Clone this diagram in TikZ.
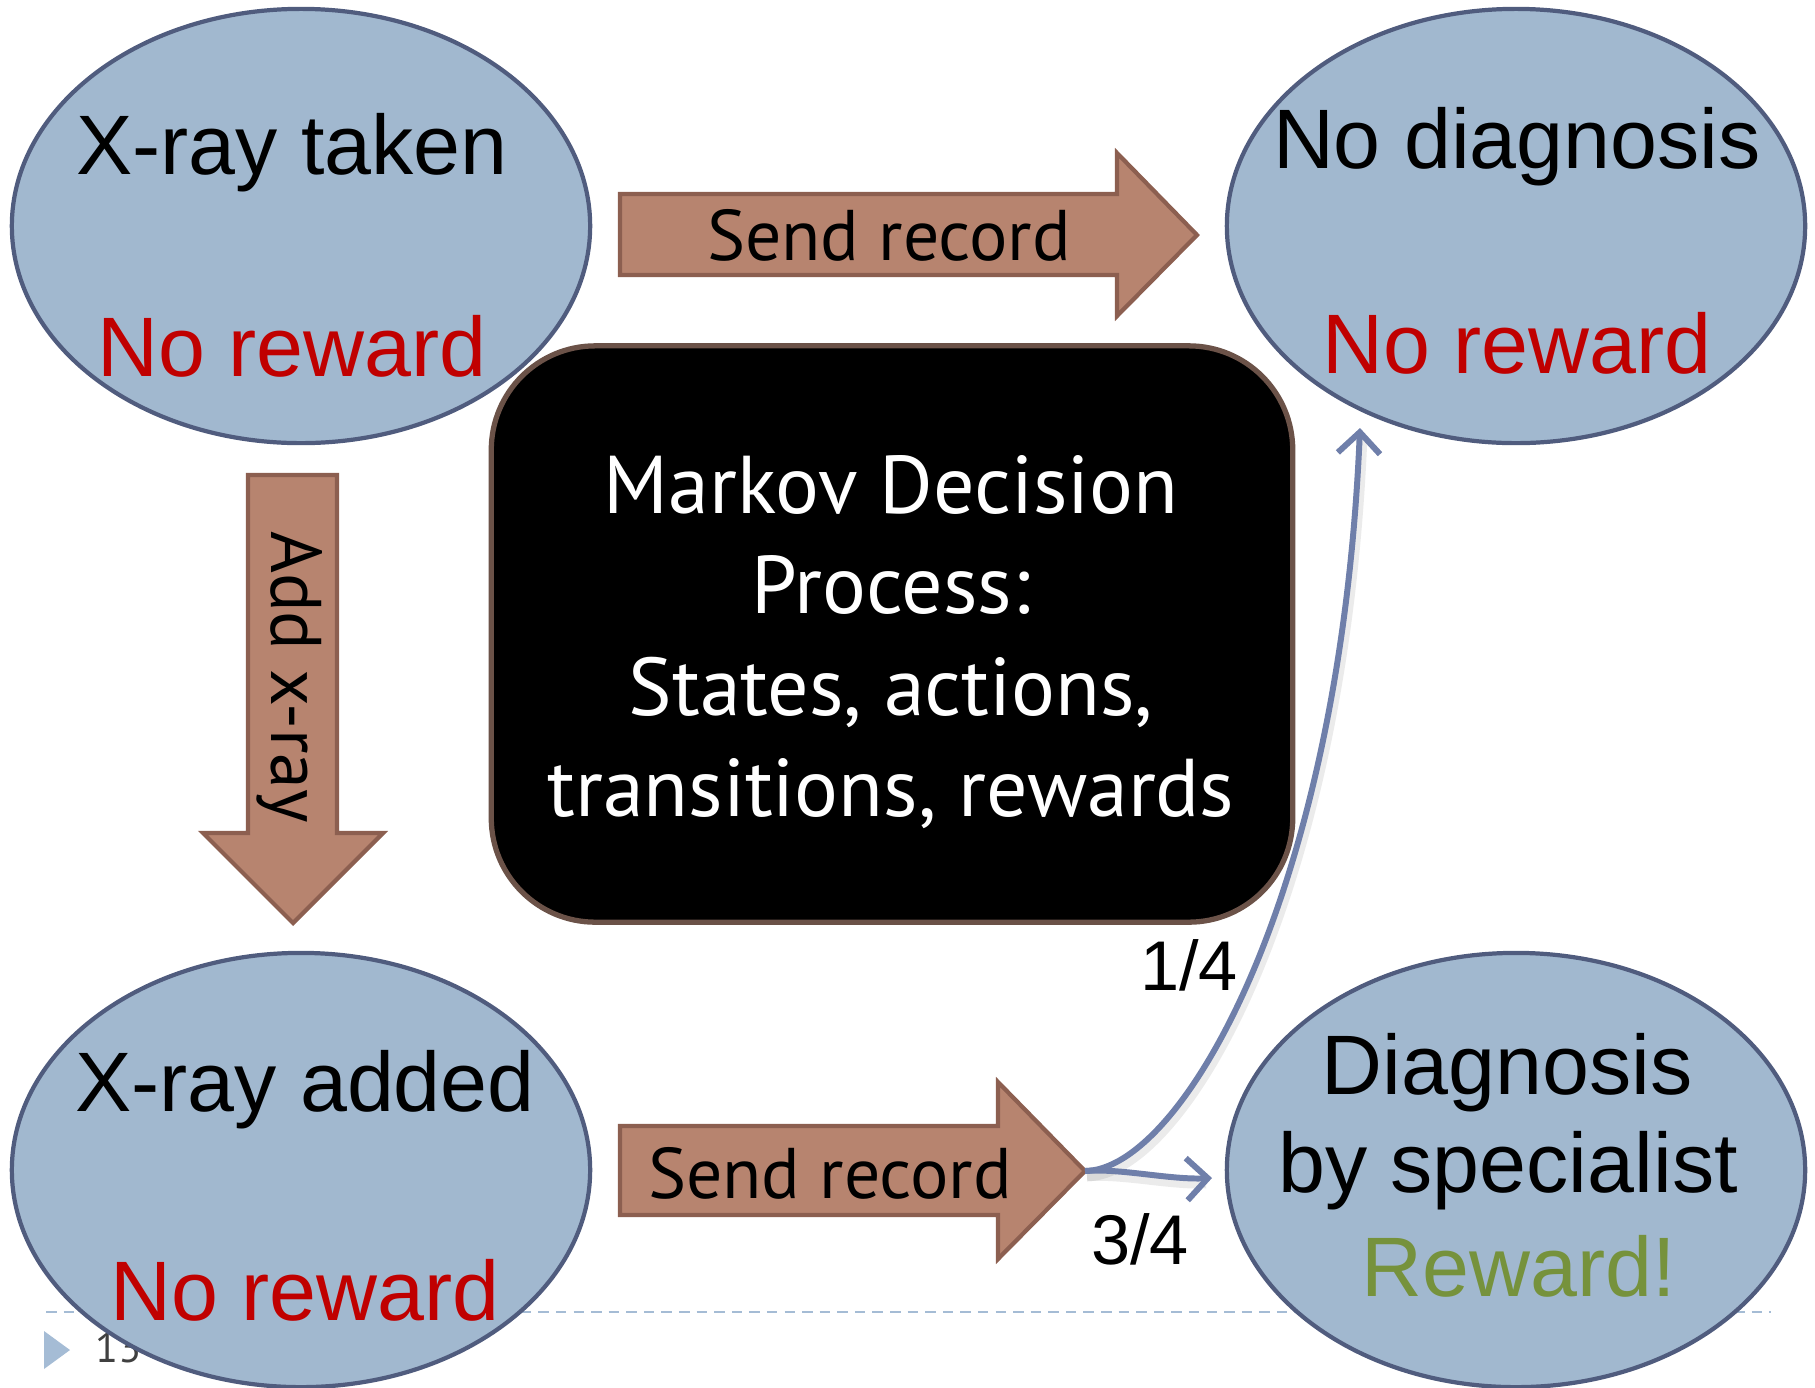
\documentclass[tikz,border=0pt]{standalone}
\usepackage{fontspec}
\setmainfont{Liberation Sans}
\newfontfamily\gill{PT Sans}
\usetikzlibrary{shapes.geometric,arrows.meta}
\definecolor{ellfill}{HTML}{A1B8CF}
\definecolor{ellline}{HTML}{505C7E}
\definecolor{redtxt}{HTML}{C00000}
\definecolor{olivetxt}{HTML}{76923C}
\definecolor{arrowfill}{HTML}{B7846F}
\definecolor{arrowline}{HTML}{8C5F50}
\definecolor{boxline}{HTML}{6B5248}
\definecolor{transcol}{HTML}{6F7FAA}
\definecolor{footcol}{HTML}{A5BCD5}
\tikzset{
  stateell/.style={ellipse, draw=ellline, fill=ellfill, line width=1.2pt, minimum width=5.78cm, minimum height=4.34cm, inner sep=0pt},
  bigtxt/.style={font=\fontsize{24}{28}\selectfont, anchor=base, inner sep=0pt},
  boxtxt/.style={font=\gill\fontsize{23.3}{28}\selectfont, text=white, anchor=base, inner sep=0pt},
  arrowtxt/.style={font=\gill\fontsize{20.4}{24}\selectfont, inner sep=0pt},
  probtxt/.style={font=\fontsize{20}{24}\selectfont, anchor=base, inner sep=0pt},
  blockarrow/.style={fill=arrowfill, draw=arrowline, line width=1.2pt},
  trans/.style={draw=transcol, line width=1.7pt, -{Straight Barb[length=6pt,width=12pt]}},
  transshadow/.style={draw=black, opacity=0.08, line width=3pt}
}
\begin{document}
\begin{tikzpicture}[x=0.01cm,y=-0.01cm]
\useasboundingbox (0,0) rectangle (1815,1387);
% footer
\draw[footcol, line width=0.6pt, dash pattern=on 3pt off 2pt] (46,1312) -- (1771,1312);
\fill[footcol] (44,1331) -- (70,1350) -- (44,1369) -- cycle;
\node[font=\gill\fontsize{12}{14}\selectfont, text=black!75] (pagenum) at (118,1348) {13};
% states
\node[stateell] (xtaken) at (301,226) {};
\node[stateell] (nodiag) at (1516,226) {};
\node[stateell] (xadded) at (301,1170) {};
\node[stateell] (diag) at (1516,1170) {};
\node[bigtxt] (t1) at (292,174) {X-ray taken};
\node[bigtxt, text=redtxt] (r1) at (292,376) {No reward};
\node[bigtxt] (t2) at (1517,168) {No diagnosis};
\node[bigtxt, text=redtxt] (r2) at (1517,373) {No reward};
\node[bigtxt] (t3) at (305,1111) {X-ray added};
\node[bigtxt, text=redtxt] (r3) at (305,1320) {No reward};
\node[bigtxt] (t4a) at (1507,1094) {Diagnosis};
\node[bigtxt] (t4b) at (1508,1192) {by specialist};
\node[bigtxt, text=olivetxt] (r4) at (1519,1296) {Reward!};
% block arrows
\draw[blockarrow] (620,194) -- (1117,194) -- (1117,153) -- (1197,235) -- (1117,316) -- (1117,275) -- (620,275) -- cycle;
\node[arrowtxt, anchor=base] (send1) at (889,260) {Send record};
\draw[blockarrow] (248,475) -- (337,475) -- (337,833) -- (383,833) -- (293,923) -- (203,833) -- (248,833) -- cycle;
\node[arrowtxt, rotate=-90] (addx) at (290,677) {Add x-ray};
\draw[blockarrow] (620,1126) -- (998,1126) -- (998,1082) -- (1085,1171) -- (998,1259) -- (998,1215) -- (620,1215) -- cycle;
\node[arrowtxt, anchor=base] (send2) at (830,1198) {Send record};
\coordinate (tip) at (1085,1171);
% MDP box
\node[draw=boxline, line width=1.5pt, fill=black, rounded corners=1.04cm, minimum width=8.01cm, minimum height=5.76cm] (mdp) at (892,634) {};
\node[boxtxt] (m1) at (891,513) {Markov Decision};
\node[boxtxt] (m2) at (891,613) {Process:};
\node[boxtxt] (m3) at (891,715) {States, actions,};
\node[boxtxt] (m4) at (891,816) {transitions, rewards};
% transitions
\coordinate (end34) at (1212,1178);
\coordinate (end14) at (1360,428);
\draw[transshadow] ([shift={(2,5)}]tip) .. controls (1182,1175) and (1342,905) .. (1362,440);
\draw[transshadow] ([shift={(2,5)}]tip) .. controls (1122,1173) and (1172,1185) .. (1206,1183);
\draw[trans] (tip) .. controls (1180,1170) and (1340,900) .. (end14);
\draw[trans] (tip) .. controls (1120,1168) and (1170,1180) .. (end34);
\node[probtxt] (p14) at (1189,990) {1/4};
\node[probtxt] (p34) at (1140,1264) {3/4};
\end{tikzpicture}
\end{document}
